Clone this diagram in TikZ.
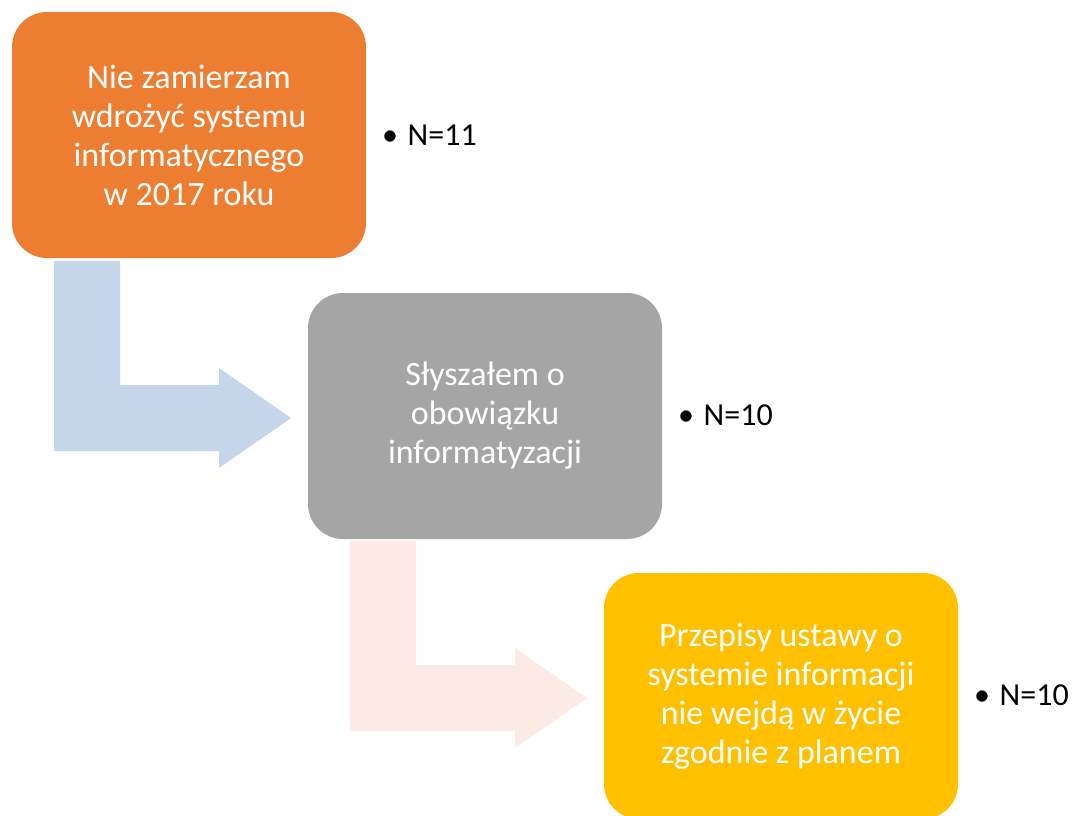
\documentclass[tikz,border=0pt]{standalone}
\usepackage{fontspec}
\setmainfont{Carlito}
\definecolor{c1}{HTML}{ED7D31}
\definecolor{c2}{HTML}{A5A5A5}
\definecolor{c3}{HTML}{FFC000}
\definecolor{a1}{HTML}{C5D5EA}
\definecolor{a2}{HTML}{FBEAE6}
\begin{document}
\begin{tikzpicture}[x=1pt,y=-1pt,
  box/.style={rounded corners=35pt, minimum width=354pt, minimum height=246pt, align=center, text=white, font=\fontsize{34}{39}\selectfont, inner sep=0pt},
  lab/.style={anchor=west, font=\fontsize{32}{36}\selectfont, inner sep=0pt}]
\useasboundingbox (0,0) rectangle (1074,815);
\fill[a1] (54,261) -- (120,261) -- (120,385) -- (219,385) -- (219,368) -- (291,418) -- (219,468) -- (219,451) -- (54,451) -- cycle;
\fill[a2] (350,541) -- (416,541) -- (416,665) -- (515,665) -- (515,648) -- (587,698) -- (515,748) -- (515,731) -- (350,731) -- cycle;
\node[box, fill=c1] (b1) at (189,135) {Nie zamierzam\\wdrożyć systemu\\informatycznego\\w 2017 roku};
\node[box, fill=c2] (b2) at (485,416) {Słyszałem o\\obowiązku\\informatyzacji};
\node[box, fill=c3] (b3) at (781,696) {Przepisy ustawy o\\systemie informacji\\nie wejdą w życie\\zgodnie z planem};
\node[lab] (l1) at (382,135) {•\hspace{0.3em}N=11};
\node[lab] (l2) at (678,415) {•\hspace{0.3em}N=10};
\node[lab] (l3) at (974,695) {•\hspace{0.3em}N=10};
\end{tikzpicture}
\end{document}
